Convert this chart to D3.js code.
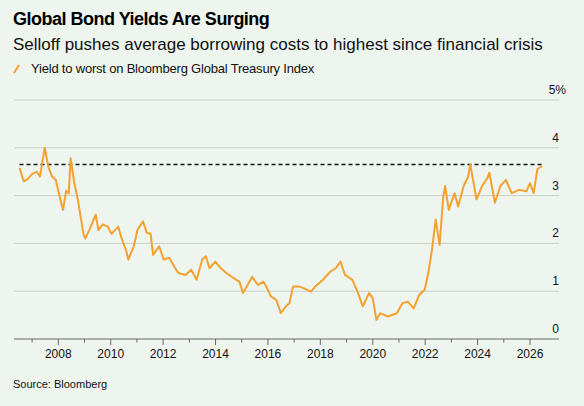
<!DOCTYPE html>
<html lang="en">
<head>
<meta charset="UTF-8" />
<style>
  body { margin: 0; background: #eef5ee; font-family: "Liberation Sans", Arial, sans-serif; }
  svg { display: block; }
</style>
</head>
<body>
<svg id="chart"></svg>
<script src="https://d3js.org/d3.v7.min.js"></script>
<script>
const width = 584, height = 406;

// yield to worst, % (year as decimal)
const years = [2006.52, 2006.68, 2006.84, 2007.0, 2007.18, 2007.3, 2007.48, 2007.62, 2007.76, 2007.9, 2008.11, 2008.18, 2008.3, 2008.4, 2008.47, 2008.6, 2008.75, 2008.96, 2009.03, 2009.2, 2009.43, 2009.53, 2009.7, 2009.89, 2010.03, 2010.29, 2010.39, 2010.6, 2010.67, 2010.88, 2011.02, 2011.23, 2011.38, 2011.52, 2011.62, 2011.85, 2012.02, 2012.23, 2012.44, 2012.58, 2012.86, 2013.07, 2013.28, 2013.49, 2013.63, 2013.77, 2013.99, 2014.2, 2014.41, 2014.7, 2014.91, 2015.05, 2015.19, 2015.4, 2015.62, 2015.83, 2015.97, 2016.11, 2016.32, 2016.49, 2016.68, 2016.82, 2016.96, 2017.17, 2017.38, 2017.64, 2017.81, 2018.1, 2018.38, 2018.59, 2018.77, 2018.94, 2019.22, 2019.44, 2019.62, 2019.86, 2020.0, 2020.14, 2020.28, 2020.57, 2020.92, 2021.13, 2021.34, 2021.56, 2021.77, 2021.98, 2022.12, 2022.26, 2022.4, 2022.55, 2022.69, 2022.76, 2022.9, 2023.12, 2023.26, 2023.47, 2023.64, 2023.72, 2023.96, 2024.17, 2024.38, 2024.45, 2024.66, 2024.87, 2025.08, 2025.3, 2025.58, 2025.86, 2026.0, 2026.14, 2026.28, 2026.45];
const yields = [3.58, 3.3, 3.35, 3.45, 3.5, 3.4, 4.0, 3.6, 3.4, 3.33, 2.85, 2.7, 3.1, 3.05, 3.78, 3.3, 2.9, 2.2, 2.1, 2.3, 2.6, 2.28, 2.4, 2.35, 2.2, 2.35, 2.15, 1.83, 1.66, 1.94, 2.28, 2.46, 2.22, 2.2, 1.76, 1.94, 1.66, 1.7, 1.5, 1.38, 1.34, 1.45, 1.24, 1.66, 1.73, 1.48, 1.62, 1.48, 1.38, 1.27, 1.2, 0.96, 1.1, 1.3, 1.13, 1.2, 1.06, 0.89, 0.82, 0.54, 0.68, 0.75, 1.1, 1.1, 1.06, 0.99, 1.1, 1.24, 1.41, 1.48, 1.62, 1.34, 1.24, 0.96, 0.68, 0.96, 0.85, 0.4, 0.54, 0.47, 0.54, 0.75, 0.78, 0.64, 0.92, 1.03, 1.38, 1.87, 2.5, 1.97, 2.98, 3.2, 2.7, 3.05, 2.77, 3.2, 3.4, 3.65, 2.92, 3.2, 3.37, 3.48, 2.85, 3.2, 3.33, 3.05, 3.12, 3.09, 3.26, 3.05, 3.55, 3.62];
const yTicks = [0, 1, 2, 3, 4, 5];
const xLabels = [2008, 2010, 2012, 2014, 2016, 2018, 2020, 2022, 2024, 2026];
const xMinorTicks = [2007, 2009, 2011, 2013, 2015, 2017, 2019, 2021, 2023, 2025];
const threshold = 3.65;

const svg = d3.select("#chart").attr("width", width).attr("height", height);

const x = d3.scaleLinear().domain([2008, 2026]).range([58.3, 530]);
const y = d3.scaleLinear().domain([0, 5]).range([339, 100]);
const plotLeft = 14, plotRight = 559;

svg.append("text").attr("x", 13).attr("y", 25)
  .attr("font-size", 18).attr("font-weight", "bold").attr("fill", "#000")
  .attr("letter-spacing", -0.5).text("Global Bond Yields Are Surging");
svg.append("text").attr("x", 13).attr("y", 50)
  .attr("font-size", 17).attr("fill", "#111")
  .text("Selloff pushes average borrowing costs to highest since financial crisis");
svg.append("line").attr("x1", 14).attr("x2", 19).attr("y1", 73).attr("y2", 65)
  .attr("stroke", "#f4a130").attr("stroke-width", 2);
svg.append("text").attr("x", 31).attr("y", 73)
  .attr("font-size", 13).attr("fill", "#111").attr("letter-spacing", -0.2)
  .text("Yield to worst on Bloomberg Global Treasury Index");

// grid
svg.selectAll(".grid").data(yTicks.filter(d => d > 0)).join("line")
  .attr("x1", plotLeft).attr("x2", plotRight)
  .attr("y1", d => y(d)).attr("y2", d => y(d))
  .attr("stroke", "#c9cfcb").attr("stroke-width", 1);

svg.selectAll(".ylab").data(yTicks).join("text")
  .attr("x", d => d === 5 ? 566 : 559).attr("y", d => y(d) - 6)
  .attr("text-anchor", "end")
  .attr("font-size", 12).attr("fill", "#111")
  .text(d => d === 5 ? "5%" : d);

// x axis
svg.append("line").attr("x1", plotLeft).attr("x2", plotRight)
  .attr("y1", y(0)).attr("y2", y(0)).attr("stroke", "#666").attr("stroke-width", 1.2);
svg.selectAll(".xt").data(xLabels).join("line")
  .attr("x1", d => x(d)).attr("x2", d => x(d))
  .attr("y1", y(0)).attr("y2", y(0) + 6).attr("stroke", "#666");
svg.selectAll(".xm").data(xMinorTicks).join("line")
  .attr("x1", d => x(d)).attr("x2", d => x(d))
  .attr("y1", y(0)).attr("y2", y(0) + 3.5).attr("stroke", "#666");
svg.selectAll(".xlab").data(xLabels).join("text")
  .attr("x", d => x(d)).attr("y", 358).attr("text-anchor", "middle")
  .attr("font-size", 12).attr("fill", "#111").text(d => d);

// dashed reference
svg.append("line").attr("x1", x(years[0])).attr("x2", x(years[years.length - 1]))
  .attr("y1", y(threshold)).attr("y2", y(threshold))
  .attr("stroke", "#111").attr("stroke-width", 1.6).attr("stroke-dasharray", "4,3");

const line = d3.line().x((d, i) => x(years[i])).y(d => y(d));
svg.append("path").datum(yields).attr("d", line)
  .attr("fill", "none").attr("stroke", "#f4a130").attr("stroke-width", 2)
  .attr("stroke-linejoin", "round");

svg.append("text").attr("x", 13).attr("y", 388)
  .attr("font-size", 11).attr("fill", "#111").text("Source: Bloomberg");
</script>
</body>
</html>
